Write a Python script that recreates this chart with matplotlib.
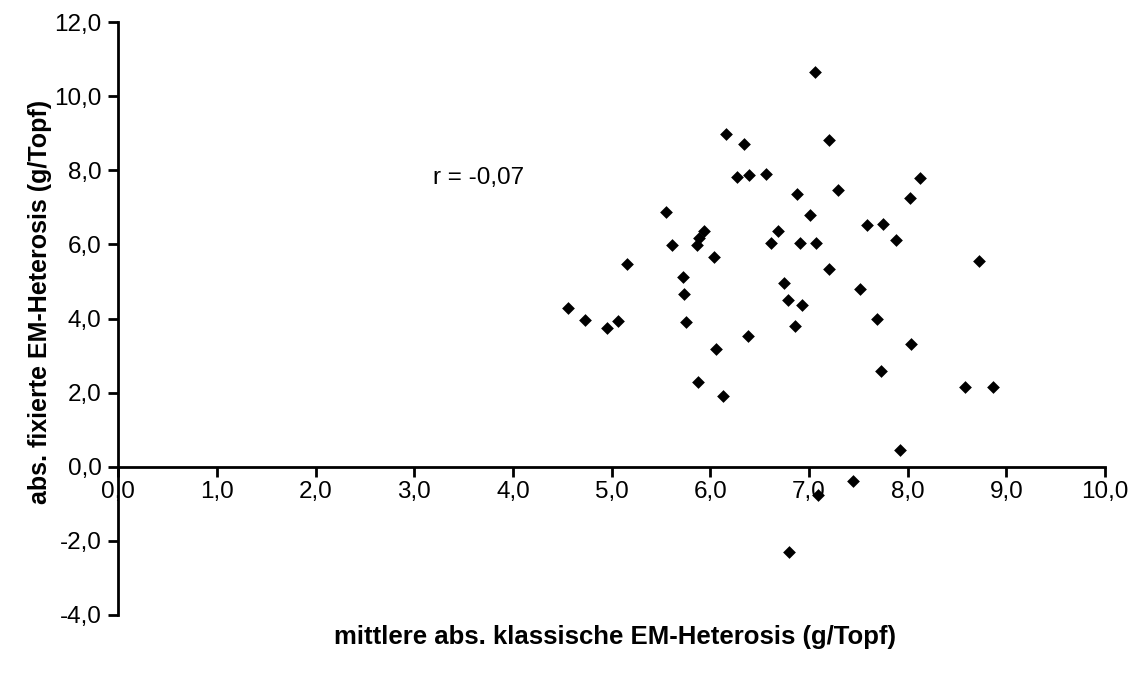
import matplotlib
matplotlib.use("Agg")
import matplotlib.pyplot as plt
from matplotlib.ticker import FuncFormatter

plt.rcParams['font.family'] = ['Liberation Sans', 'DejaVu Sans']

# mittlere abs. klassische EM-Heterosis (g/Topf)
x_vals = [7.06, 6.16, 6.34, 7.20, 6.27, 6.39, 6.56, 7.29, 6.88, 5.55,
          7.01, 5.94, 5.89, 5.86, 5.61, 6.04, 6.69, 6.61, 6.91, 7.07,
          5.16, 7.20, 5.72, 5.73, 6.75, 6.79, 6.93, 4.56, 4.73, 4.95,
          5.06, 5.75, 6.86, 6.38, 8.13, 8.02, 7.59, 7.75, 7.88, 8.72,
          7.52, 7.69, 6.06, 5.88, 6.13, 8.03, 7.73, 8.58, 8.86, 7.92,
          7.45, 7.09, 6.80]
# abs. fixierte EM-Heterosis (g/Topf)
y_vals = [10.65, 8.97, 8.71, 8.81, 7.82, 7.88, 7.89, 7.48, 7.37, 6.87,
          6.78, 6.35, 6.17, 5.97, 5.99, 5.67, 6.35, 6.03, 6.05, 6.05,
          5.46, 5.34, 5.13, 4.66, 4.97, 4.50, 4.37, 4.29, 3.96, 3.75,
          3.94, 3.91, 3.81, 3.52, 7.80, 7.25, 6.51, 6.56, 6.11, 5.54,
          4.79, 4.00, 3.17, 2.28, 1.92, 3.30, 2.59, 2.16, 2.16, 0.46,
          -0.38, -0.77, -2.31]

x_ticks = [0, 1, 2, 3, 4, 5, 6, 7, 8, 9, 10]
y_ticks = [-4, -2, 0, 2, 4, 6, 8, 10, 12]
r_text = "r = -0,07"
x_label = "mittlere abs. klassische EM-Heterosis (g/Topf)"
y_label = "abs. fixierte EM-Heterosis (g/Topf)"

W, H = 1146, 677
fig = plt.figure(figsize=(W / 100, H / 100), dpi=100)
ax = fig.add_axes([118.3 / W, 62 / H, (1105 - 118.3) / W, (615 - 22) / H])

ax.scatter(x_vals, y_vals, marker='D', s=6.5 ** 2, color='black', linewidths=0, zorder=3)

ax.set_xlim(0, 10)
ax.set_ylim(-4, 12)
ax.set_xticks(x_ticks)
ax.set_yticks(y_ticks)
fmt = FuncFormatter(lambda v, p: f"{v:.1f}".replace('.', ','))
ax.xaxis.set_major_formatter(fmt)
ax.yaxis.set_major_formatter(fmt)

for s in ['top', 'right']:
    ax.spines[s].set_visible(False)
ax.spines['left'].set_position(('data', 0))
ax.spines['bottom'].set_position(('data', 0))
ax.spines['left'].set_linewidth(2)
ax.spines['bottom'].set_linewidth(2)
ax.tick_params(axis='both', direction='out', length=7, width=2, labelsize=17.5, colors='black')
ax.tick_params(axis='x', pad=3)
ax.tick_params(axis='y', pad=5)

ax.text(3.19, 7.79, r_text, fontsize=17.5, ha='left', va='center')

fig.text(615 / W, 1 - 637 / H, x_label, fontsize=18.5, fontweight='bold', ha='center', va='center')
fig.text(40 / W, 1 - 301.5 / H, y_label, fontsize=18, fontweight='bold', ha='center', va='center', rotation=90)

fig.savefig("out.png", dpi=100, facecolor='white')
